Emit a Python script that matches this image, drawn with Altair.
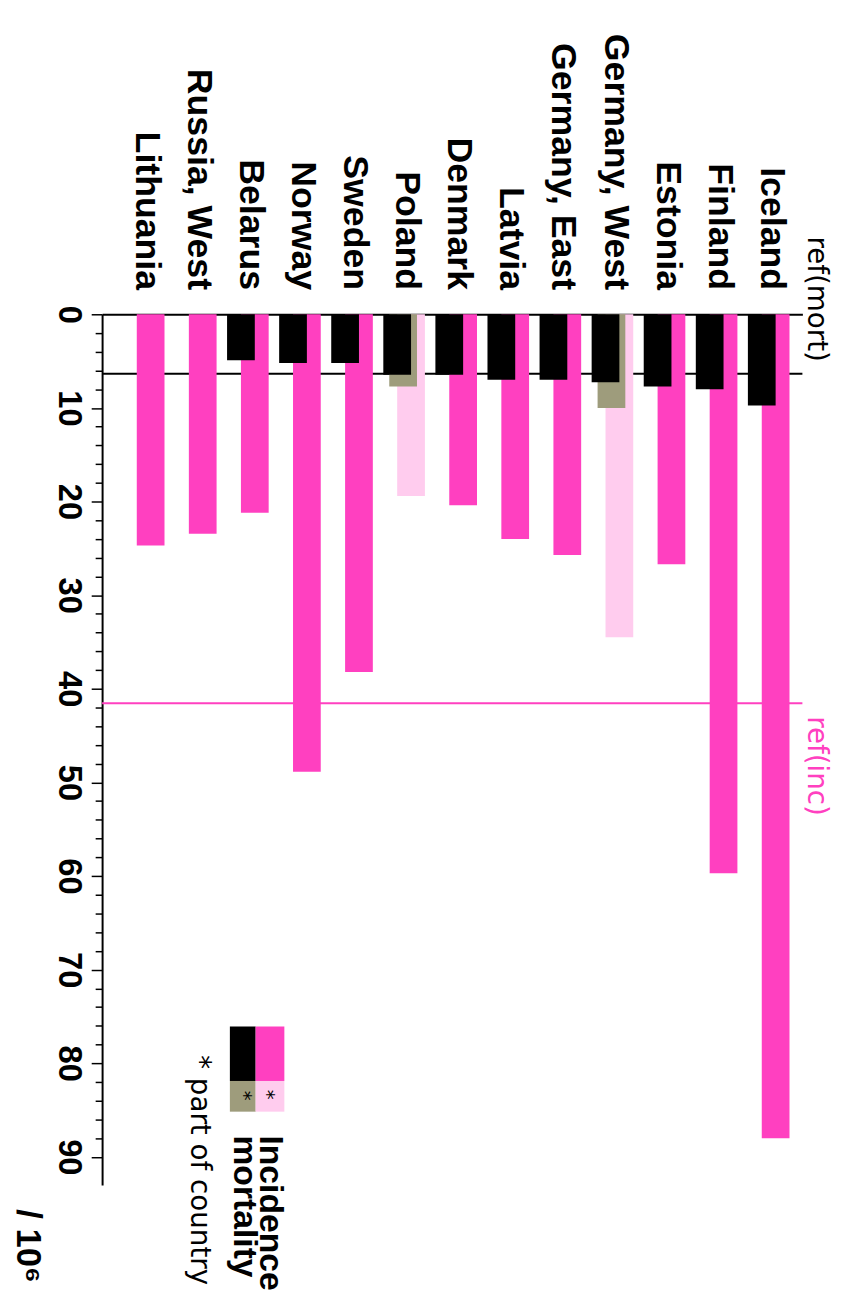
import altair as alt
import pandas as pd

# ---------------- data ----------------
countries = ["Lithuania", "Russia, West", "Belarus", "Norway", "Sweden", "Poland",
             "Denmark", "Latvia", "Germany, East", "Germany, West", "Estonia",
             "Finland", "Iceland"]
mortality = [None, None, 4.9, 5.2, 5.2, 6.45, 6.45, 7.0, 7.0, 7.25, 7.7, 8.0, 9.75]
mortality_part = [None, None, None, None, None, 7.7, None, None, None, 10.0, None, None, None]
incidence = [24.7, 23.45, 21.2, 48.85, 38.2, None, 20.4, 24.0, 25.7, None, 26.7, 59.7, 88.0]
incidence_part = [None, None, None, None, None, 19.4, None, None, None, 34.5, None, None, None]
ref_mort = 6.35
ref_inc = 41.55
y_ticks = list(range(0, 91, 2))
kinds = ["incidence", "incidence_part", "mortality", "mortality_part"]

PINK = "#ff40c0"
LIGHT = "#ffccee"
OLIVE = "#9e9c7c"
BLACK = "#000000"
kind_colors = [PINK, LIGHT, BLACK, OLIVE]


def frame(vals, kind):
    return pd.DataFrame([{"country": c, "kind": kind, "value": v}
                         for c, v in zip(countries, vals) if v is not None])


inc_df = pd.concat([frame(incidence, "incidence"), frame(incidence_part, "incidence_part")])
mortp_df = frame(mortality_part, "mortality_part")
mort_df = frame(mortality, "mortality")
refm_df = pd.DataFrame({"value": [ref_mort]})
refi_df = pd.DataFrame({"value": [ref_inc]})

W, H = 707, 879
BOLD = "Liberation Sans"

X = alt.X("country:N", sort=countries, title=None,
          scale=alt.Scale(paddingInner=0, paddingOuter=0.223, align=0.67),
          axis=alt.Axis(orient="top", ticks=False, tickSize=0, domain=True,
                        domainColor=BLACK, domainWidth=2,
                        labelAngle=90, labelAlign="right", labelBaseline="middle",
                        labelPadding=25, labelOffset=3, labelLimit=0,
                        labelFont=BOLD, labelFontSize=36, labelFontWeight="bold",
                        labelColor=BLACK, grid=False))

Y = alt.Y("value:Q",
          scale=alt.Scale(domain=[0, 93], reverse=True, nice=False, zero=True),
          axis=alt.Axis(values=y_ticks,
                        labelExpr="datum.value % 10 === 0 ? datum.label : ''",
                        tickSize={"condition": {"test": "datum.value % 10 === 0", "value": 11},
                                  "value": 7},
                        labelAngle=90, labelAlign="center", labelBaseline="top",
                        labelPadding=7, labelFont=BOLD, labelFontSize=33,
                        labelFontWeight="bold", labelColor=BLACK,
                        labelOverlap=False, labelFlush=False,
                        domainColor=BLACK, domainWidth=2,
                        tickColor=BLACK, tickWidth=1.5, grid=False,
                        title="/ 10⁶", titleAngle=90, titleAlign="left",
                        titleBaseline="alphabetic", titleX=-86, titleY=903,
                        titleFont=BOLD, titleFontSize=35, titleFontWeight="bold",
                        titleColor=BLACK))

C = alt.Color("kind:N", scale=alt.Scale(domain=kinds, range=kind_colors), legend=None)

rule_m = alt.Chart(refm_df).mark_rule(color=BLACK, strokeWidth=2).encode(y=Y)
rule_i = alt.Chart(refi_df).mark_rule(color=PINK, strokeWidth=2).encode(y=Y)

inc_bars = alt.Chart(inc_df).mark_bar(width=28, xOffset=7).encode(x=X, y=Y, color=C)
mortp_bars = alt.Chart(mortp_df).mark_bar(width=28, xOffset=-1).encode(x=X, y=Y, color=C)
mort_bars = alt.Chart(mort_df).mark_bar(width=28, xOffset=-7).encode(x=X, y=Y, color=C)

txt_m = alt.Chart(refm_df).mark_text(text="ref(mort)", angle=90, align="right",
                                     baseline="alphabetic", dx=-12, xOffset=6,
                                     font="DejaVu Sans", fontSize=28, color=BLACK
                                     ).encode(x=alt.value("width"), y=Y)
txt_i = alt.Chart(refi_df).mark_text(text="ref(inc)", angle=90, align="left",
                                     baseline="alphabetic", dx=13, xOffset=6,
                                     font="DejaVu Sans", fontSize=28, color=PINK
                                     ).encode(x=alt.value("width"), y=Y)

# ---------------- hand-built legend ----------------
one = alt.Data(values=[{"k": 1}])
legend_layers = []
swatches = [
    (129, 155, 719, 774, BLACK),
    (155, 184, 719, 774, PINK),
    (129, 155, 774, 805, OLIVE),
    (155, 184, 774, 805, LIGHT),
]
for x1, x2, y1, y2, col in swatches:
    legend_layers.append(
        alt.Chart(one).mark_rect(color=col).encode(
            x=alt.value(x1), x2=alt.value(x2), y=alt.value(y1), y2=alt.value(y2)))
for xx, yy in [(143, 789), (166, 788)]:
    legend_layers.append(
        alt.Chart(one).mark_text(text="*", angle=90, align="center", baseline="middle",
                                 font="DejaVu Sans", fontSize=20, color=BLACK
                                 ).encode(x=alt.value(xx), y=alt.value(yy)))
for label, xx in [("Incidence", 159), ("mortality", 133)]:
    legend_layers.append(
        alt.Chart(one).mark_text(text=label, angle=90, align="left", baseline="alphabetic",
                                 font=BOLD, fontSize=34, fontWeight="bold", color=BLACK
                                 ).encode(x=alt.value(xx), y=alt.value(829)))
legend_layers.append(
    alt.Chart(one).mark_text(text="* part of country", angle=90, align="left",
                             baseline="alphabetic", font="DejaVu Sans", fontSize=28,
                             color=BLACK).encode(x=alt.value(90), y=alt.value(748)))

chart = alt.layer(rule_m, rule_i, inc_bars, mortp_bars, mort_bars, txt_m, txt_i,
                  *legend_layers).properties(
    width=W, height=H,
    autosize=alt.AutoSizeParams(type="none"),
    padding={"left": 95, "top": 303, "right": 42, "bottom": 119},
    background="white",
).configure_view(strokeWidth=0)

chart.save("out.html", embed_options={"renderer": "svg", "actions": False})
